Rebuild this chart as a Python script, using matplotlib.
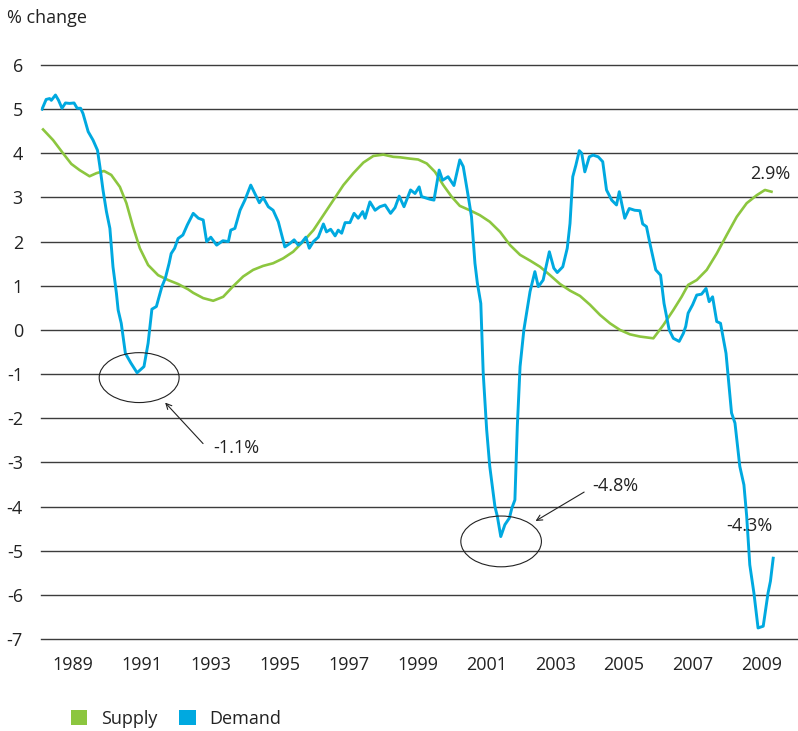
import matplotlib
matplotlib.use("Agg")
import matplotlib.pyplot as plt
from matplotlib.patches import Ellipse, Patch

plt.rcParams['font.family'] = ['Open Sans', 'DejaVu Sans']

# ---- data ----
demand_t = [1988.10, 1988.22, 1988.32, 1988.37, 1988.49, 1988.58, 1988.68, 1988.78, 1988.90,
            1989.03, 1989.12, 1989.22, 1989.29, 1989.44, 1989.58, 1989.71, 1989.78, 1989.87,
            1989.97, 1990.07, 1990.16, 1990.26, 1990.31, 1990.40, 1990.52, 1990.68, 1990.86,
            1991.06, 1991.18, 1991.29, 1991.42, 1991.58, 1991.68, 1991.79, 1991.85, 1991.95,
            1992.05, 1992.19, 1992.32, 1992.49, 1992.64, 1992.78, 1992.88, 1993.00, 1993.17,
            1993.35, 1993.51, 1993.58, 1993.70, 1993.85, 1993.99, 1994.16, 1994.28, 1994.41,
            1994.52, 1994.67, 1994.81, 1994.96, 1995.15, 1995.30, 1995.42, 1995.54, 1995.64,
            1995.76, 1995.86, 1995.98, 1996.12, 1996.27, 1996.36, 1996.48, 1996.61, 1996.70,
            1996.80, 1996.90, 1997.04, 1997.16, 1997.28, 1997.41, 1997.48, 1997.62, 1997.77,
            1997.91, 1998.06, 1998.22, 1998.35, 1998.47, 1998.61, 1998.80, 1998.93, 1999.05,
            1999.12, 1999.36, 1999.48, 1999.63, 1999.73, 1999.89, 2000.06, 2000.23, 2000.33,
            2000.47, 2000.57, 2000.67, 2000.74, 2000.84, 2000.91, 2001.01, 2001.10, 2001.25,
            2001.32, 2001.42, 2001.54, 2001.67, 2001.74, 2001.83, 2001.90, 2001.98, 2002.09,
            2002.27, 2002.41, 2002.51, 2002.65, 2002.83, 2002.96, 2003.06, 2003.22, 2003.35,
            2003.43, 2003.51, 2003.60, 2003.70, 2003.77, 2003.86, 2003.99, 2004.10, 2004.25,
            2004.38, 2004.49, 2004.64, 2004.78, 2004.86, 2005.02, 2005.15, 2005.31, 2005.46,
            2005.54, 2005.65, 2005.75, 2005.92, 2006.06, 2006.16, 2006.31, 2006.43, 2006.60,
            2006.72, 2006.79, 2006.86, 2006.99, 2007.11, 2007.25, 2007.38, 2007.47, 2007.57,
            2007.69, 2007.80, 2007.96, 2008.12, 2008.22, 2008.36, 2008.48, 2008.56, 2008.65,
            2008.77, 2008.89, 2009.04, 2009.18, 2009.25, 2009.33]
demand_v = [5.00, 5.22, 5.24, 5.20, 5.32, 5.20, 5.02, 5.14, 5.13,
            5.14, 5.02, 5.02, 4.90, 4.49, 4.30, 4.07, 3.70, 3.17,
            2.68, 2.30, 1.43, 0.83, 0.45, 0.15, -0.53, -0.75, -0.97,
            -0.83, -0.30, 0.47, 0.53, 0.98, 1.17, 1.51, 1.73, 1.85,
            2.07, 2.15, 2.38, 2.64, 2.53, 2.49, 2.00, 2.10, 1.92,
            2.02, 2.00, 2.26, 2.30, 2.71, 2.94, 3.28, 3.09, 2.88,
            3.00, 2.79, 2.71, 2.45, 1.88, 1.96, 2.04, 1.92, 1.98,
            2.10, 1.85, 2.00, 2.10, 2.40, 2.22, 2.28, 2.13, 2.26,
            2.19, 2.43, 2.43, 2.64, 2.53, 2.68, 2.53, 2.90, 2.71,
            2.79, 2.83, 2.64, 2.77, 3.03, 2.79, 3.17, 3.09, 3.24,
            3.02, 2.96, 2.94, 3.62, 3.39, 3.47, 3.27, 3.85, 3.70,
            3.05, 2.56, 1.51, 1.06, 0.60, -0.98, -2.26, -3.09, -4.00,
            -4.22, -4.68, -4.41, -4.26, -4.04, -3.85, -2.19, -0.83, 0.00,
            0.87, 1.32, 0.98, 1.13, 1.77, 1.40, 1.30, 1.43, 1.85,
            2.41, 3.47, 3.73, 4.06, 4.00, 3.58, 3.92, 3.96, 3.92,
            3.81, 3.17, 2.94, 2.83, 3.13, 2.53, 2.75, 2.71, 2.70,
            2.40, 2.34, 1.96, 1.36, 1.24, 0.60, 0.00, -0.19, -0.26,
            -0.08, 0.08, 0.38, 0.57, 0.79, 0.81, 0.94, 0.64, 0.75,
            0.19, 0.15, -0.53, -1.88, -2.11, -3.09, -3.51, -4.22, -5.32,
            -5.96, -6.75, -6.71, -5.96, -5.69, -5.17]

supply_t = [1988.13, 1988.42, 1988.71, 1988.95, 1989.19, 1989.48, 1989.68, 1989.90, 1990.11,
            1990.36, 1990.55, 1990.74, 1990.94, 1991.18, 1991.47, 1991.76, 1992.05, 1992.34,
            1992.49, 1992.78, 1993.07, 1993.36, 1993.65, 1993.94, 1994.23, 1994.52, 1994.81,
            1995.10, 1995.39, 1995.68, 1995.98, 1996.27, 1996.56, 1996.85, 1997.14, 1997.43,
            1997.72, 1998.01, 1998.30, 1998.49, 1998.78, 1999.02, 1999.27, 1999.51, 1999.75,
            1999.99, 2000.23, 2000.52, 2000.81, 2001.10, 2001.40, 2001.69, 2001.98, 2002.27,
            2002.56, 2002.85, 2003.14, 2003.43, 2003.72, 2004.01, 2004.30, 2004.59, 2004.88,
            2005.17, 2005.46, 2005.85, 2006.14, 2006.43, 2006.67, 2006.86, 2007.11, 2007.40,
            2007.69, 2007.98, 2008.27, 2008.56, 2008.85, 2009.09, 2009.28]
supply_v = [4.54, 4.30, 4.00, 3.76, 3.62, 3.48, 3.55, 3.60, 3.51,
            3.24, 2.87, 2.34, 1.85, 1.47, 1.24, 1.13, 1.04, 0.92,
            0.84, 0.72, 0.66, 0.75, 0.99, 1.21, 1.36, 1.45, 1.51,
            1.62, 1.77, 2.00, 2.26, 2.60, 2.94, 3.28, 3.55, 3.79,
            3.94, 3.97, 3.92, 3.91, 3.88, 3.86, 3.77, 3.58, 3.28,
            3.02, 2.81, 2.71, 2.60, 2.45, 2.22, 1.92, 1.70, 1.57,
            1.43, 1.24, 1.04, 0.89, 0.77, 0.57, 0.34, 0.15, 0.00,
            -0.10, -0.15, -0.19, 0.11, 0.45, 0.75, 1.02, 1.13, 1.36,
            1.73, 2.15, 2.56, 2.87, 3.05, 3.17, 3.13]

year_ticks = [1989, 1991, 1993, 1995, 1997, 1999, 2001, 2003, 2005, 2007, 2009]
y_ticks = list(range(-7, 7))

GREEN = '#8cc63f'
BLUE = '#00a9e0'
TXT = '#222222'
FS = 13

W, H = 798, 731
fig = plt.figure(figsize=(W / 100, H / 100), dpi=100)
ax = fig.add_axes([41 / W, (H - 639) / H, 757 / W, 574 / H])

for v in y_ticks:
    ax.axhline(v, color='#3c3c3c', lw=1.0, zorder=1, clip_on=False)

ax.plot(supply_t, supply_v, color=GREEN, lw=1.9, zorder=3, solid_joinstyle='round')
ax.plot(demand_t, demand_v, color=BLUE, lw=2.1, zorder=4, solid_joinstyle='round')

ax.set_xlim(1988.07, 2010.05)
ax.set_ylim(-7, 6)
ax.set_xticks(year_ticks)
ax.set_xticklabels([str(y) for y in year_ticks])
ax.set_yticks(y_ticks)
ax.set_yticklabels([str(v) for v in y_ticks])
ax.tick_params(axis='both', length=0, labelsize=FS, colors=TXT)
ax.tick_params(axis='x', pad=12)
ax.tick_params(axis='y', pad=13)
for lab in ax.get_yticklabels():
    lab.set_horizontalalignment('right')
for s in ax.spines.values():
    s.set_visible(False)

# annotations
ax.add_patch(Ellipse((1990.92, -1.08), 2.32, 1.13, fill=False, ec=TXT, lw=0.8, zorder=5))
ax.add_patch(Ellipse((2001.43, -4.79), 2.34, 1.15, fill=False, ec=TXT, lw=0.8, zorder=5))
ax.annotate('', xy=(1991.62, -1.60), xytext=(1992.83, -2.62),
            arrowprops=dict(arrowstyle='->', color=TXT, lw=0.8))
ax.annotate('', xy=(2002.36, -4.36), xytext=(2003.91, -3.64),
            arrowprops=dict(arrowstyle='->', color=TXT, lw=0.8))
ax.text(1993.06, -2.67, '-1.1%', fontsize=FS, color=TXT, va='center', ha='left')
ax.text(2004.09, -3.53, '-4.8%', fontsize=FS, color=TXT, va='center', ha='left')
ax.text(2007.98, -4.45, '-4.3%', fontsize=FS, color=TXT, va='center', ha='left', zorder=6)
ax.text(2008.65, 3.53, '2.9%', fontsize=FS, color=TXT, va='center', ha='left')

fig.text(7 / W, 1 - 18 / H, '% change', fontsize=FS, color=TXT, va='center', ha='left')

handles = [Patch(facecolor=GREEN, edgecolor='none', label='Supply'),
           Patch(facecolor=BLUE, edgecolor='none', label='Demand')]
fig.legend(handles=handles, loc='center left', bbox_to_anchor=(71 / W, 1 - 719 / H),
           ncol=2, frameon=False, fontsize=FS, handlelength=0.9, handleheight=0.9,
           handletextpad=0.78, columnspacing=1.2, borderpad=0, borderaxespad=0,
           labelcolor=TXT)

fig.savefig('out.png', dpi=100)
